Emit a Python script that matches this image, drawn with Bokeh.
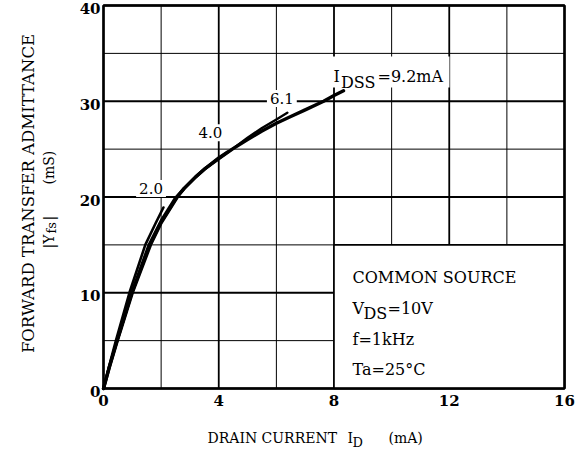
from math import pi
from bokeh.plotting import figure
from bokeh.models import ColumnDataSource, Range1d
from bokeh.core.properties import value
from bokeh.embed import file_html
from bokeh.resources import INLINE

# ---- data ----
idss_labels = ["2.0", "4.0", "6.1", "9.2"]

id_2_0 = [0, 0.2, 0.43, 0.9, 1.45, 1.8, 2.08]
yfs_2_0 = [0, 2.4, 5, 10, 15, 17.2, 18.9]

id_4_0 = [0, 0.2, 0.47, 0.98, 1.58, 2.0, 2.5, 2.8, 3.2, 3.5, 4.0, 4.3]
yfs_4_0 = [0, 2.2, 5, 10, 15, 17.5, 19.9, 20.9, 22.1, 22.9, 24.1, 24.7]

id_6_1 = [0, 0.2, 0.48, 1.0, 1.62, 2.0, 2.56, 2.8, 3.2, 3.5, 4.0, 4.47, 5.0, 5.5, 6.0, 6.38]
yfs_6_1 = [0, 2.2, 5, 10, 15, 17.3, 20, 20.9, 22.1, 22.9, 24.0, 25, 26.2, 27.2, 28.1, 28.8]

id_9_2 = [0, 0.2, 0.48, 1.0, 1.63, 2.0, 2.56, 2.8, 3.2, 3.5, 4.0, 4.47, 5.0, 5.5, 6.0, 6.5, 7.0, 7.64, 8.0, 8.33]
yfs_9_2 = [0, 2.2, 5, 10, 15, 17.3, 20, 20.9, 22.1, 22.9, 24.0, 25, 26.0, 26.9, 27.7, 28.4, 29.1, 30, 30.6, 31.1]

x_ticks = [0, 4, 8, 12, 16]
x_minor = [2, 6, 10, 14]
y_ticks = [0, 10, 20, 30, 40]
y_minor = [5, 15, 25, 35]
x_tick_labels = ["0", "4", "8", "12", "16"]
y_tick_labels = ["0", "10", "20", "30", "40"]

x_min, x_max = 0, 16
y_min, y_max = 0, 40

# curve label anchor positions (data units)
lab_x = [1.65, 3.71, 6.19]
lab_y = [20.9, 26.7, 30.3]
lab_t = ["2.0", "4.0", "6.1"]

FONT = "DejaVu Serif"

W, H = 578, 450
# where the data frame sits on the canvas (pixels)
FL, FR, FT, FB = 103.0, 564.0, 5.0, 388.0
SX = (FR - FL) / (x_max - x_min)
SY = (FB - FT) / (y_max - y_min)


def X(pix):
    return x_min + (pix - FL) / SX


def Y(pix):
    return y_min + (FB - pix) / SY


p = figure(width=W, height=H, output_backend="svg", toolbar_location=None,
           x_range=Range1d(X(0), X(W)), y_range=Range1d(Y(H), Y(0)),
           x_axis_type=None, y_axis_type=None,
           min_border=0, min_border_left=0, min_border_right=0,
           min_border_top=0, min_border_bottom=0, title=None)
p.outline_line_color = None
p.background_fill_color = "white"
p.border_fill_color = "white"
p.grid.visible = False

# ---- grid lines (from the tick lists) ----
p.segment(x0=x_minor, x1=x_minor, y0=[y_min] * len(x_minor), y1=[y_max] * len(x_minor),
          line_color="black", line_width=1.0)
p.segment(x0=[x_min] * len(y_minor), x1=[x_max] * len(y_minor), y0=y_minor, y1=y_minor,
          line_color="black", line_width=1.0)
p.segment(x0=x_ticks, x1=x_ticks, y0=[y_min] * len(x_ticks), y1=[y_max] * len(x_ticks),
          line_color="black", line_width=1.8)
p.segment(x0=[x_min] * len(y_ticks), x1=[x_max] * len(y_ticks), y0=y_ticks, y1=y_ticks,
          line_color="black", line_width=1.8)

# condition box (covers grid)
p.quad(left=[8], right=[16], bottom=[0], top=[15], fill_color="white",
       line_color="black", line_width=1.6)

# white box behind the IDSS label
p.quad(left=[X(330)], right=[X(449)], bottom=[Y(87)], top=[Y(56)],
       fill_color="white", line_color=None)

# plot frame
p.quad(left=[x_min], right=[x_max], bottom=[y_min], top=[y_max],
       fill_color=None, line_color="black", line_width=2.5)

# curve labels with white background
src = ColumnDataSource(dict(x=lab_x, y=lab_y, t=lab_t))
p.text(x="x", y="y", text="t", source=src, text_font=value(FONT),
       text_font_size="15px", text_align="center", text_baseline="middle",
       text_color="black", background_fill_color="white", padding=3)

# curves
curves = [(id_2_0, yfs_2_0, 2.6), (id_4_0, yfs_4_0, 3.2),
          (id_6_1, yfs_6_1, 2.4), (id_9_2, yfs_9_2, 3.4)]
for xs, ys, w in curves:
    p.line(xs, ys, line_color="black", line_width=w, line_cap="round",
           line_join="round")

# ---- tick labels ----
p.text(x=x_ticks, y=[Y(FB + 6)] * len(x_ticks), text=x_tick_labels,
       text_font=value(FONT), text_font_style="bold", text_font_size="15px",
       text_align="center", text_baseline="top", text_color="black")
p.text(x=[X(FL - 3)] * len(y_ticks), y=y_ticks, y_offset=3, text=y_tick_labels,
       text_font=value(FONT), text_font_style="bold", text_font_size="15px",
       text_align="right", text_baseline="middle", text_color="black")


# ---- other texts (positions given in canvas pixels) ----
def txt(text, xpix, ypix, size="16px", align="left", angle=0.0):
    p.text(x=[X(xpix)], y=[Y(ypix)], text=[text], text_font=value(FONT),
           text_font_size=size, text_align=align, text_baseline="alphabetic",
           text_color="black", angle=angle)


# IDSS label
txt("I", 333, 76)
txt("DSS", 340.5, 82)
txt("=9.2mA", 377, 76)

# condition box texts
txt("COMMON SOURCE", 352, 277)
txt("V", 352, 308)
txt("DS", 363, 313)
txt("=10V", 387, 308)
txt("f=1kHz", 352, 339)
txt("Ta=25°C", 352, 369)

# x-axis title
txt("DRAIN CURRENT", 207, 437, size="14px")
txt("I", 347, 437, size="14px")
txt("D", 352, 442, size="13px")
txt("(mA)", 388, 437, size="14px")

# y-axis title (rotated)
txt("FORWARD TRANSFER ADMITTANCE", 28, 193, size="16.5px", align="center", angle=pi / 2)
txt("|Y", 48, 248, size="14px", angle=pi / 2)
txt("fs", 51, 233, size="13px", angle=pi / 2)
txt("|", 48, 220, size="14px", angle=pi / 2)
txt("(mS)", 48, 184, size="14px", angle=pi / 2)

open("out.html", "w").write(file_html(p, INLINE))
